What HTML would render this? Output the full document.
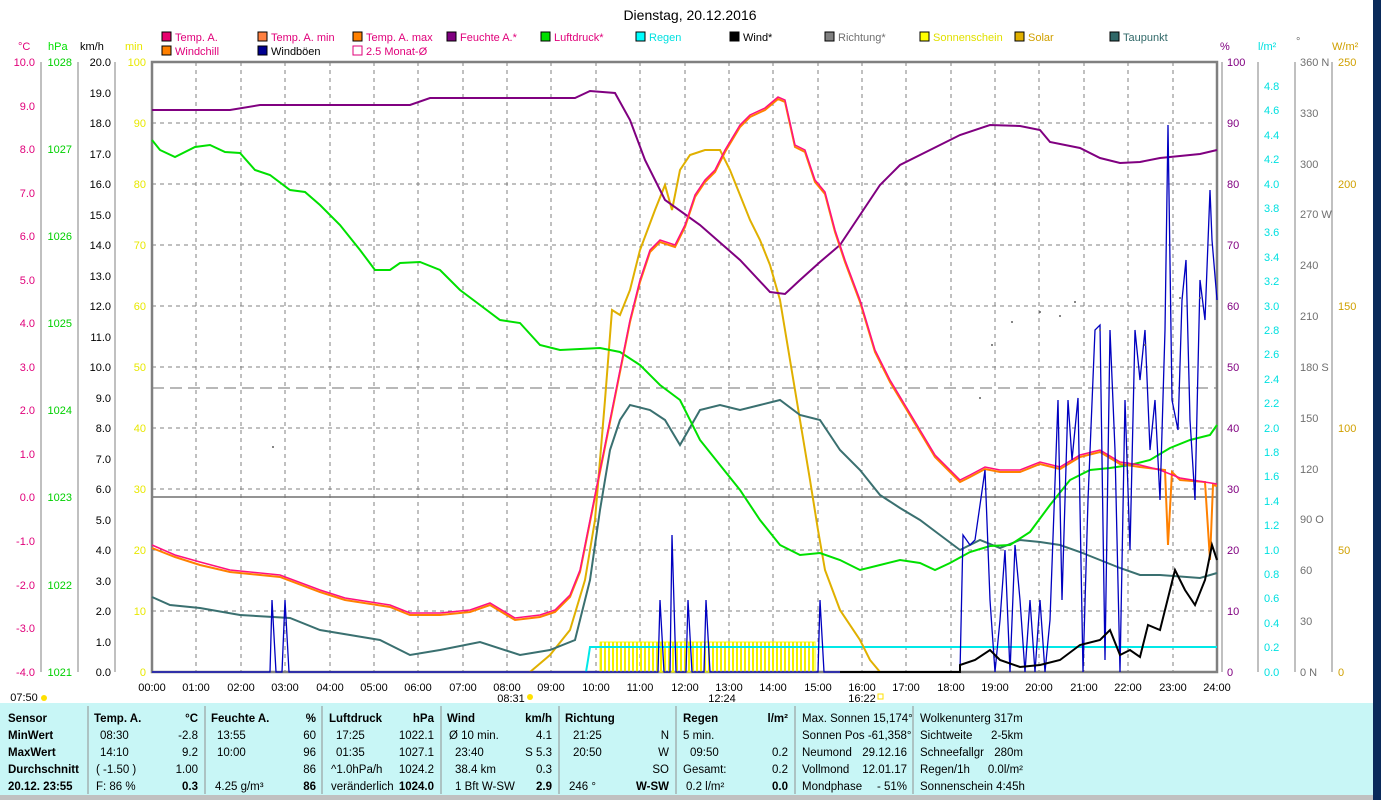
<!DOCTYPE html>
<html><head><meta charset="utf-8"><style>
body{margin:0;width:1381px;height:800px;overflow:hidden;background:#fff;font-family:"Liberation Sans",sans-serif}
svg{position:absolute;left:0;top:0}
text{font-family:"Liberation Sans",sans-serif}
</style></head><body>
<svg width="1381" height="800" viewBox="0 0 1381 800">
<rect x="0" y="0" width="1381" height="800" fill="#fff"/>
<text x="690" y="20" font-size="14" text-anchor="middle" fill="#000">Dienstag, 20.12.2016</text>
<g font-size="11" fill="#e0007a">
<rect x="162" y="32" width="9" height="9" fill="#e8006e" stroke="#000"/><text x="175" y="41">Temp. A.</text>
<rect x="258" y="32" width="9" height="9" fill="#ff8040" stroke="#000"/><text x="271" y="41">Temp. A. min</text>
<rect x="353" y="32" width="9" height="9" fill="#ff8000" stroke="#000"/><text x="366" y="41">Temp. A. max</text>
<rect x="447" y="32" width="9" height="9" fill="#800080" stroke="#000"/><text x="460" y="41">Feuchte A.*</text>
<rect x="541" y="32" width="9" height="9" fill="#00e000" stroke="#000"/><text x="554" y="41">Luftdruck*</text>
<rect x="636" y="32" width="9" height="9" fill="#00ffff" stroke="#000"/><text x="649" y="41" fill="#00e0e0">Regen</text>
<rect x="730" y="32" width="9" height="9" fill="#000" stroke="#000"/><text x="743" y="41" fill="#000">Wind*</text>
<rect x="825" y="32" width="9" height="9" fill="#808080" stroke="#000"/><text x="838" y="41" fill="#707070">Richtung*</text>
<rect x="920" y="32" width="9" height="9" fill="#ffff00" stroke="#000"/><text x="933" y="41" fill="#e0e000">Sonnenschein</text>
<rect x="1015" y="32" width="9" height="9" fill="#e0b000" stroke="#000"/><text x="1028" y="41" fill="#d0a000">Solar</text>
<rect x="1110" y="32" width="9" height="9" fill="#306868" stroke="#000"/><text x="1123" y="41" fill="#306868">Taupunkt</text>
<rect x="162" y="46" width="9" height="9" fill="#ff8000" stroke="#000"/><text x="175" y="55">Windchill</text>
<rect x="258" y="46" width="9" height="9" fill="#000090" stroke="#000"/><text x="271" y="55" fill="#000">Windböen</text>
<rect x="353" y="46" width="9" height="9" fill="#fff" stroke="#e0007a"/><text x="366" y="55">2.5 Monat-Ø</text>
</g>
<!-- axis unit labels -->
<g font-size="11">
<text x="18" y="50" fill="#e0007a">°C</text><text x="48" y="50" fill="#00e000">hPa</text><text x="80" y="50">km/h</text><text x="125" y="50" fill="#e8e800">min</text>
<text x="1220" y="50" fill="#800080">%</text><text x="1258" y="50" fill="#00e0e0">l/m²</text><text x="1296" y="45" fill="#707070">°</text><text x="1332" y="50" fill="#d0a000">W/m²</text>
</g>
<!-- grid -->
<g stroke="#808080" stroke-dasharray="4,4" stroke-width="1">
<line x1="196" y1="62" x2="196" y2="672"/><line x1="241" y1="62" x2="241" y2="672"/><line x1="285" y1="62" x2="285" y2="672"/><line x1="330" y1="62" x2="330" y2="672"/><line x1="374" y1="62" x2="374" y2="672"/><line x1="418" y1="62" x2="418" y2="672"/><line x1="463" y1="62" x2="463" y2="672"/><line x1="507" y1="62" x2="507" y2="672"/><line x1="551" y1="62" x2="551" y2="672"/><line x1="596" y1="62" x2="596" y2="672"/><line x1="640" y1="62" x2="640" y2="672"/><line x1="685" y1="62" x2="685" y2="672"/><line x1="729" y1="62" x2="729" y2="672"/><line x1="773" y1="62" x2="773" y2="672"/><line x1="818" y1="62" x2="818" y2="672"/><line x1="862" y1="62" x2="862" y2="672"/><line x1="906" y1="62" x2="906" y2="672"/><line x1="951" y1="62" x2="951" y2="672"/><line x1="995" y1="62" x2="995" y2="672"/><line x1="1039" y1="62" x2="1039" y2="672"/><line x1="1084" y1="62" x2="1084" y2="672"/><line x1="1128" y1="62" x2="1128" y2="672"/><line x1="1173" y1="62" x2="1173" y2="672"/>
<line x1="152" y1="123" x2="1217" y2="123"/><line x1="152" y1="184" x2="1217" y2="184"/><line x1="152" y1="245" x2="1217" y2="245"/><line x1="152" y1="306" x2="1217" y2="306"/><line x1="152" y1="367" x2="1217" y2="367"/><line x1="152" y1="428" x2="1217" y2="428"/><line x1="152" y1="489" x2="1217" y2="489"/><line x1="152" y1="550" x2="1217" y2="550"/><line x1="152" y1="611" x2="1217" y2="611"/>
</g>
<line x1="152" y1="388" x2="1217" y2="388" stroke="#707070" stroke-dasharray="12,6"/>
<line x1="152" y1="497" x2="1217" y2="497" stroke="#707070" stroke-width="1.5"/>
<rect x="152" y="62" width="1065" height="610" fill="none" stroke="#808080" stroke-width="2.5"/>
<!-- left axes -->
<g stroke="#808080" fill="none"><line x1="41" y1="62" x2="41" y2="672"/><line x1="78" y1="62" x2="78" y2="672"/><line x1="115" y1="62" x2="115" y2="672"/><line x1="1222" y1="62" x2="1222" y2="672"/><line x1="1258" y1="62" x2="1258" y2="672"/><line x1="1295" y1="62" x2="1295" y2="672"/><line x1="1332" y1="62" x2="1332" y2="672"/></g>
<g font-size="11" text-anchor="end" fill="#e0007a">
<text x="35" y="66">10.0</text><text x="35" y="110">9.0</text><text x="35" y="153">8.0</text><text x="35" y="197">7.0</text><text x="35" y="240">6.0</text><text x="35" y="284">5.0</text><text x="35" y="327">4.0</text><text x="35" y="371">3.0</text><text x="35" y="414">2.0</text><text x="35" y="458">1.0</text><text x="35" y="501">0.0</text><text x="35" y="545">-1.0</text><text x="35" y="589">-2.0</text><text x="35" y="632">-3.0</text><text x="35" y="676">-4.0</text>
</g>
<g font-size="11" text-anchor="end" fill="#00d000">
<text x="72" y="66">1028</text><text x="72" y="153">1027</text><text x="72" y="240">1026</text><text x="72" y="327">1025</text><text x="72" y="414">1024</text><text x="72" y="501">1023</text><text x="72" y="589">1022</text><text x="72" y="676">1021</text>
</g>
<g font-size="11" text-anchor="end" fill="#000">
<text x="111" y="66">20.0</text><text x="111" y="97">19.0</text><text x="111" y="127">18.0</text><text x="111" y="158">17.0</text><text x="111" y="188">16.0</text><text x="111" y="219">15.0</text><text x="111" y="249">14.0</text><text x="111" y="280">13.0</text><text x="111" y="310">12.0</text><text x="111" y="341">11.0</text><text x="111" y="371">10.0</text><text x="111" y="402">9.0</text><text x="111" y="432">8.0</text><text x="111" y="463">7.0</text><text x="111" y="493">6.0</text><text x="111" y="524">5.0</text><text x="111" y="554">4.0</text><text x="111" y="585">3.0</text><text x="111" y="615">2.0</text><text x="111" y="646">1.0</text><text x="111" y="676">0.0</text>
</g>
<g font-size="11" text-anchor="end" fill="#e8e800">
<text x="146" y="66">100</text><text x="146" y="127">90</text><text x="146" y="188">80</text><text x="146" y="249">70</text><text x="146" y="310">60</text><text x="146" y="371">50</text><text x="146" y="432">40</text><text x="146" y="493">30</text><text x="146" y="554">20</text><text x="146" y="615">10</text><text x="146" y="676">0</text>
</g>
<g font-size="11" fill="#800080">
<text x="1227" y="66">100</text><text x="1227" y="127">90</text><text x="1227" y="188">80</text><text x="1227" y="249">70</text><text x="1227" y="310">60</text><text x="1227" y="371">50</text><text x="1227" y="432">40</text><text x="1227" y="493">30</text><text x="1227" y="554">20</text><text x="1227" y="615">10</text><text x="1227" y="676">0</text>
</g>
<g font-size="11" fill="#00e0e0">
<text x="1264" y="90">4.8</text><text x="1264" y="114">4.6</text><text x="1264" y="139">4.4</text><text x="1264" y="163">4.2</text><text x="1264" y="188">4.0</text><text x="1264" y="212">3.8</text><text x="1264" y="236">3.6</text><text x="1264" y="261">3.4</text><text x="1264" y="285">3.2</text><text x="1264" y="310">3.0</text><text x="1264" y="334">2.8</text><text x="1264" y="358">2.6</text><text x="1264" y="383">2.4</text><text x="1264" y="407">2.2</text><text x="1264" y="432">2.0</text><text x="1264" y="456">1.8</text><text x="1264" y="480">1.6</text><text x="1264" y="505">1.4</text><text x="1264" y="529">1.2</text><text x="1264" y="554">1.0</text><text x="1264" y="578">0.8</text><text x="1264" y="602">0.6</text><text x="1264" y="627">0.4</text><text x="1264" y="651">0.2</text><text x="1264" y="676">0.0</text>
</g>
<g font-size="11" fill="#707070">
<text x="1300" y="66">360 N</text><text x="1300" y="117">330</text><text x="1300" y="168">300</text><text x="1300" y="218">270 W</text><text x="1300" y="269">240</text><text x="1300" y="320">210</text><text x="1300" y="371">180 S</text><text x="1300" y="422">150</text><text x="1300" y="473">120</text><text x="1300" y="523">90 O</text><text x="1300" y="574">60</text><text x="1300" y="625">30</text><text x="1300" y="676">0 N</text>
</g>
<g font-size="11" fill="#d0a000">
<text x="1338" y="66">250</text><text x="1338" y="188">200</text><text x="1338" y="310">150</text><text x="1338" y="432">100</text><text x="1338" y="554">50</text><text x="1338" y="676">0</text>
</g>
<!-- sunshine bars -->
<rect x="600" y="642" width="215" height="30" fill="none" stroke="#ffff00" stroke-width="1"/>
<g stroke="#f0f000" stroke-dasharray="2,2"><line x1="600" y1="657" x2="815" y2="657" stroke-width="30"/></g>
<!-- rain -->
<polyline fill="none" stroke="#00e8e8" stroke-width="2" points="586,672 588,660 590,647 1217,647"/>
<!-- solar -->
<polyline fill="none" stroke="#e0b000" stroke-width="2" points="530,672 550,655 570,630 585,580 595,520 605,400 612,310 620,315 630,290 640,250 655,210 665,185 672,210 680,170 690,155 705,150 720,150 730,170 740,195 750,220 760,240 770,265 780,300 790,360 800,420 810,480 818,530 825,570 840,610 860,640 870,660 880,672"/>
<!-- dewpoint -->
<polyline fill="none" stroke="#3a7070" stroke-width="2" points="152,597 170,605 200,608 240,615 290,618 320,630 350,635 380,640 410,655 440,650 480,642 520,655 550,650 575,640 590,580 600,510 610,450 620,420 630,405 650,410 665,420 680,445 700,410 720,405 740,410 760,405 780,400 800,415 820,420 840,450 860,470 880,495 900,508 920,520 940,535 960,550 980,540 1000,548 1020,540 1040,542 1060,545 1080,552 1100,560 1120,568 1140,575 1160,575 1200,578 1217,573"/>
<!-- pressure -->
<polyline fill="none" stroke="#00e000" stroke-width="2" points="152,140 160,150 175,157 195,147 210,145 225,152 240,153 255,170 270,175 290,190 305,192 320,205 340,225 360,250 375,270 390,270 400,263 420,262 440,270 460,290 480,305 500,320 520,323 540,345 560,350 600,348 620,352 640,365 660,385 680,400 700,440 720,465 740,490 760,520 780,545 800,555 820,553 840,560 860,570 880,565 900,560 920,563 935,570 950,563 970,552 990,546 1010,545 1030,532 1050,505 1070,480 1090,470 1110,468 1130,465 1150,460 1170,448 1190,440 1210,435 1217,425"/>
<!-- humidity -->
<polyline fill="none" stroke="#800080" stroke-width="2" points="152,110 230,110 260,105 410,105 430,98 575,98 590,91 615,93 630,120 645,160 665,200 700,225 740,260 770,292 785,294 800,280 820,262 840,245 860,215 880,185 900,165 930,150 960,135 990,125 1020,126 1040,130 1050,142 1080,148 1100,158 1120,163 1140,162 1160,158 1200,154 1217,150"/>
<!-- temp max / min (orange) -->
<polyline fill="none" stroke="#ff8000" stroke-width="2" points="152,548 175,557 200,565 230,572 280,577 320,592 345,600 390,607 410,615 440,615 470,612 490,605 515,620 540,617 555,612 570,597 580,572 590,522 600,472 610,422 620,372 630,322 640,282 650,252 660,242 675,247 685,227 695,197 705,182 715,172 725,152 740,127 750,117 765,110 778,99 785,102 795,147 805,152 815,182 825,194 835,232 845,262 860,302 875,352 890,382 905,407 920,432 935,457 950,472 960,482 970,477 985,469 1000,472 1020,472 1040,464 1060,469 1080,457 1100,452 1120,464 1140,467 1165,470 1168,545 1172,472 1180,480 1205,482 1210,560 1213,485 1217,486"/>
<polyline fill="none" stroke="#ff1080" stroke-width="1.5" points="152,545 175,555 200,562 230,570 280,575 320,590 345,598 390,605 410,613 440,613 470,610 490,603 515,618 540,615 555,610 570,595 580,570 590,520 600,470 610,420 620,370 630,320 640,280 650,250 660,240 675,245 685,225 695,195 705,180 715,170 725,150 740,125 750,115 765,108 778,97 785,100 795,145 805,150 815,180 825,192 835,230 845,260 860,300 875,350 890,380 905,405 920,430 935,455 950,470 960,480 970,475 985,467 1000,470 1020,470 1040,462 1060,467 1080,455 1100,450 1120,462 1140,465 1160,470 1180,478 1217,484"/>
<!-- gusts -->
<polyline fill="none" stroke="#0000c0" stroke-width="1.3" points="152,672 270,672 272,600 276,672 282,672 285,600 289,672 658,672 660,600 664,672 670,672 672,535 676,672 686,672 688,600 692,672 704,672 706,600 710,672 818,672 820,600 824,672 960,672 963,535 970,545 975,540 985,470 990,600 995,672 1000,620 1005,550 1010,672 1015,545 1020,600 1025,672 1030,600 1035,672 1040,600 1045,672 1050,620 1058,400 1062,600 1068,400 1072,460 1078,398 1083,672 1088,500 1095,330 1100,325 1105,660 1110,330 1115,450 1120,672 1125,400 1130,550 1135,330 1140,380 1145,330 1150,450 1155,400 1160,500 1165,330 1168,125 1172,400 1178,430 1182,300 1186,260 1190,420 1195,500 1200,280 1205,320 1210,190 1212,240 1217,300"/>
<!-- wind -->
<polyline fill="none" stroke="#000" stroke-width="2" points="840,672 960,672 960,665 975,660 990,650 1000,660 1020,667 1040,665 1060,660 1080,645 1100,640 1110,630 1120,655 1130,650 1140,657 1148,625 1160,630 1175,570 1185,590 1195,605 1205,580 1212,545 1217,560"/>
<g fill="#606060"><circle cx="980" cy="398" r="1"/><circle cx="992" cy="345" r="1"/><circle cx="1012" cy="322" r="1"/><circle cx="1040" cy="312" r="1"/><circle cx="1060" cy="316" r="1"/><circle cx="1075" cy="302" r="1"/><circle cx="1100" cy="330" r="1"/><circle cx="1145" cy="345" r="1"/><circle cx="1180" cy="298" r="1"/><circle cx="1200" cy="298" r="1"/><circle cx="273" cy="447" r="1"/></g>
<!-- time labels -->
<g font-size="11" text-anchor="middle" fill="#000">
<text x="152" y="691">00:00</text><text x="196" y="691">01:00</text><text x="241" y="691">02:00</text><text x="285" y="691">03:00</text><text x="330" y="691">04:00</text><text x="374" y="691">05:00</text><text x="418" y="691">06:00</text><text x="463" y="691">07:00</text><text x="507" y="691">08:00</text><text x="551" y="691">09:00</text><text x="596" y="691">10:00</text><text x="640" y="691">11:00</text><text x="685" y="691">12:00</text><text x="729" y="691">13:00</text><text x="773" y="691">14:00</text><text x="818" y="691">15:00</text><text x="862" y="691">16:00</text><text x="906" y="691">17:00</text><text x="951" y="691">18:00</text><text x="995" y="691">19:00</text><text x="1039" y="691">20:00</text><text x="1084" y="691">21:00</text><text x="1128" y="691">22:00</text><text x="1173" y="691">23:00</text><text x="1217" y="691">24:00</text>
<text x="24" y="701">07:50</text><text x="511" y="702">08:31</text><text x="722" y="702">12:24</text><text x="862" y="702">16:22</text>
</g>
<circle cx="44" cy="698" r="3" fill="#ffe000"/><circle cx="530" cy="697" r="3" fill="#ffe000"/><rect x="878" y="694" width="5" height="5" fill="none" stroke="#ffe000"/>
<!-- table -->
<rect x="0" y="703" width="1373" height="92" fill="#c8f6f6"/>
<rect x="0" y="795" width="1373" height="5" fill="#c0c0c0"/>
<rect x="1373" y="0" width="8" height="800" fill="#0a2a5a"/>
<g stroke="#909090"><line x1="88" y1="706" x2="88" y2="794"/><line x1="205" y1="706" x2="205" y2="794"/><line x1="322" y1="706" x2="322" y2="794"/><line x1="441" y1="706" x2="441" y2="794"/><line x1="559" y1="706" x2="559" y2="794"/><line x1="676" y1="706" x2="676" y2="794"/><line x1="795" y1="706" x2="795" y2="794"/><line x1="913" y1="706" x2="913" y2="794"/></g>
<g font-size="11.5" fill="#000">
<g font-weight="bold"><text x="8" y="722">Sensor</text><text x="8" y="739">MinWert</text><text x="8" y="756">MaxWert</text><text x="8" y="773">Durchschnitt</text><text x="8" y="790">20.12. 23:55</text>
<text x="94" y="722">Temp. A.</text><text x="211" y="722">Feuchte A.</text><text x="329" y="722">Luftdruck</text><text x="447" y="722">Wind</text><text x="565" y="722">Richtung</text><text x="683" y="722">Regen</text></g>
<g text-anchor="end" font-weight="bold"><text x="198" y="722">°C</text><text x="316" y="722">%</text><text x="434" y="722">hPa</text><text x="552" y="722">km/h</text><text x="788" y="722">l/m²</text>
<text x="198" y="790">0.3</text><text x="316" y="790">86</text><text x="434" y="790">1024.0</text><text x="552" y="790">2.9</text><text x="669" y="790">W-SW</text><text x="788" y="790">0.0</text></g>
<text x="100" y="739">08:30</text><text x="100" y="756">14:10</text><text x="96" y="773">( -1.50 )</text><text x="96" y="790">F: 86 %</text>
<g text-anchor="end"><text x="198" y="739">-2.8</text><text x="198" y="756">9.2</text><text x="198" y="773">1.00</text>
<text x="316" y="739">60</text><text x="316" y="756">96</text><text x="316" y="773">86</text>
<text x="434" y="739">1022.1</text><text x="434" y="756">1027.1</text><text x="434" y="773">1024.2</text>
<text x="552" y="739">4.1</text><text x="552" y="756">S 5.3</text><text x="552" y="773">0.3</text>
<text x="669" y="739">N</text><text x="669" y="756">W</text><text x="669" y="773">SO</text>
<text x="788" y="756">0.2</text><text x="788" y="773">0.2</text></g>
<text x="217" y="739">13:55</text><text x="217" y="756">10:00</text><text x="215" y="790">4.25 g/m³</text>
<text x="336" y="739">17:25</text><text x="336" y="756">01:35</text><text x="331" y="773">^1.0hPa/h</text><text x="331" y="790">veränderlich</text>
<text x="449" y="739">Ø 10 min.</text><text x="455" y="756">23:40</text><text x="455" y="773">38.4 km</text><text x="455" y="790">1 Bft W-SW</text>
<text x="573" y="739">21:25</text><text x="573" y="756">20:50</text><text x="569" y="790">246 °</text>
<text x="683" y="739">5 min.</text><text x="690" y="756">09:50</text><text x="683" y="773">Gesamt:</text><text x="686" y="790">0.2 l/m²</text>
<text x="802" y="722">Max. Sonnen 15,174°</text><text x="802" y="739">Sonnen Pos  -61,358°</text><text x="802" y="756">Neumond</text><text x="802" y="773">Vollmond</text><text x="802" y="790">Mondphase</text>
<g text-anchor="end"><text x="907" y="756">29.12.16</text><text x="907" y="773">12.01.17</text><text x="907" y="790">- 51%</text></g>
<text x="920" y="722">Wolkenunterg   317m</text><text x="920" y="739">Sichtweite</text><text x="920" y="756">Schneefallgr</text><text x="920" y="773">Regen/1h</text><text x="920" y="790">Sonnenschein  4:45h</text>
<g text-anchor="end"><text x="1023" y="739">2-5km</text><text x="1023" y="756">280m</text><text x="1023" y="773">0.0l/m²</text></g>
</g>
</svg>
</body></html>
